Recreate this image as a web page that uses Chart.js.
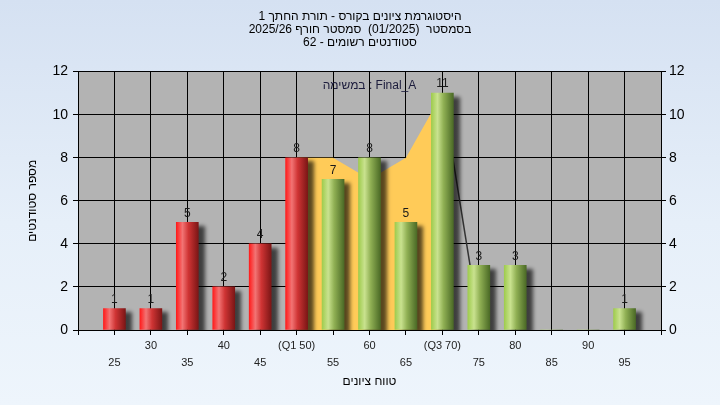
<!DOCTYPE html>
<html>
<head>
<meta charset="utf-8">
<script src="https://cdn.jsdelivr.net/npm/chart.js@4.4.1/dist/chart.umd.min.js"></script>
<style>
  html,body{margin:0;padding:0;}
  body{width:720px;height:405px;background:linear-gradient(180deg,#d5e1f2 0%,#e6eff9 55%,#eef5fc 100%);overflow:hidden;}
  canvas{display:block;}
</style>
</head>
<body>
<canvas id="chart-hist" width="720" height="405"></canvas>
<script>
// histogram data
const grades   = [25, 30, 35, 40, 45, 50, 55, 60, 65, 70, 75, 80, 85, 90, 95];
const counts   = [1, 1, 5, 2, 4, 8, 7, 8, 5, 11, 3, 3, 0, 0, 1];
const tickLabels = ['25','30','35','40','45','(Q1 50)','55','60','65','(Q3 70)','75','80','85','90','95'];
const redUpTo  = 50;

// quartile band (yellow area) and its tail line
const bandX = [50, 55, 60, 65, 70];
const bandY = [8, 8, 7, 8, 11];
const tailX = [70, 73.8];
const tailY = [11, 3];

const titleLines = [
  'היסטוגרמת ציונים בקורס - תורת החתך 1',
  'בסמסטר  (01/2025)  סמסטר חורף 2025/26',
  'סטודנטים רשומים - 62',
];
const noteText = 'במשימה : Final_A';

const FONT = 'Arial, "Liberation Sans", sans-serif';
const BAR_W = 22;

// horizontal "cylinder" gradient across one bar
function cylinder(ctx, px, red) {
  const g = ctx.createLinearGradient(px - BAR_W/2, 0, px + BAR_W/2, 0);
  if (red) {
    g.addColorStop(0, '#ff1c1c');
    g.addColorStop(0.28, '#f27474');
    g.addColorStop(0.55, '#cf3434');
    g.addColorStop(1, '#7c1616');
  } else {
    g.addColorStop(0, '#9fcc4e');
    g.addColorStop(0.28, '#c9e28f');
    g.addColorStop(0.55, '#90b054');
    g.addColorStop(1, '#4b6a26');
  }
  return g;
}

const plotBg = {
  id:'plotBg',
  beforeDraw(chart) {
    const {ctx, chartArea:a} = chart;
    ctx.save();
    ctx.fillStyle = '#b3b3b3';
    ctx.fillRect(a.left, a.top, a.right - a.left, a.bottom - a.top);
    ctx.restore();
  },
  beforeDatasetDraw(chart, args) {
    if (args.index !== 0) return;
    const ctx = chart.ctx;
    args.meta.data.forEach((bar, i) => {
      bar.options = Object.assign({}, bar.options, {backgroundColor: cylinder(ctx, bar.x, grades[i] <= redUpTo)});
    });
    ctx.save();
    ctx.shadowColor = 'rgba(0,0,0,0.65)';
    ctx.shadowBlur = 4;
    ctx.shadowOffsetX = 6;
    ctx.shadowOffsetY = 4;
  },
  afterDatasetDraw(chart, args) {
    if (args.index !== 0) return;
    chart.ctx.restore();
  },
  afterDatasetsDraw(chart) {
    const ctx = chart.ctx;
    const meta = chart.getDatasetMeta(0);
    ctx.save();
    ctx.font = '12px ' + FONT;
    ctx.fillStyle = '#1a1a1a';
    ctx.textAlign = 'center';
    ctx.textBaseline = 'bottom';
    meta.data.forEach((bar, i) => {
      if (!counts[i]) return;
      ctx.fillText(String(counts[i]), bar.x, bar.y - 3);
    });
    ctx.fillStyle = '#1c1c3c';
    ctx.textBaseline = 'middle';
    ctx.fillText(noteText, (chart.chartArea.left + chart.chartArea.right)/2, 86);
    ctx.restore();
  }
};

const tick = {color:'#000', font:{family:FONT, size:14}};

new Chart(document.getElementById('chart-hist'), {
  type:'bar',
  data:{
    datasets:[
      {
        label:'ציונים', order:1,
        data: grades.map((g,i)=>({x:g, y:counts[i]})),
        backgroundColor: c => (c.raw && c.raw.x <= redUpTo) ? '#d83030' : '#8fb050',
        borderWidth:0, barThickness: BAR_W, grouped:false,
      },
      {
        type:'line', label:'Q1-Q3', order:3,
        data: bandX.map((x,i)=>({x, y:bandY[i]})),
        backgroundColor:'#ffcb58', borderWidth:0, fill:'origin',
        pointRadius:0, tension:0,
      },
      {
        type:'line', label:'tail', order:2,
        data: tailX.map((x,i)=>({x, y:tailY[i]})),
        borderColor:'#333', borderWidth:1.5, fill:false,
        pointRadius:0, tension:0,
      },
    ]
  },
  options:{
    responsive:false, animation:false,
    layout:{padding:0},
    plugins:{
      legend:{display:false},
      tooltip:{enabled:false},
      title:{
        display:true, text:titleLines, color:'#000',
        font:{family:FONT, size:12, weight:'normal', lineHeight:1.1},
        padding:{top:10, bottom:22},
      },
    },
    scales:{
      x:{
        type:'linear', min:20, max:100, offset:false,
        afterFit: s => { s.height = 75; },
        afterBuildTicks: s => { s.ticks = [20].concat(grades, [100]).map(v=>({value:v})); },
        ticks:{
          color:'#222', font:{family:FONT, size:11, lineHeight:1.5},
          autoSkip:false, maxRotation:0, minRotation:0, padding:3,
          callback: v => {
            const i = grades.indexOf(v);
            if (i < 0) return '';
            return i % 2 === 0 ? ['', tickLabels[i]] : tickLabels[i];
          },
        },
        grid:{color:'#000', lineWidth:1, tickLength:5, tickColor:'#000', offset:false},
        border:{color:'#000', width:1},
        title:{display:true, text:'טווח ציונים', color:'#000', font:{family:FONT, size:12}, padding:{top:0, bottom:16}},
      },
      y:{
        position:'left', min:0, max:12,
        afterFit: s => { s.width = 78; },
        ticks:{...tick, stepSize:2, padding:5},
        grid:{color:'#000', lineWidth:1, tickLength:5, tickColor:'#000'},
        border:{color:'#000', width:1},
        title:{display:true, text:'מספר סטודנטים', color:'#000', font:{family:FONT, size:12}, padding:{top:25, bottom:0}},
      },
      y2:{
        position:'right', min:0, max:12,
        afterFit: s => { s.width = 59; },
        ticks:{...tick, stepSize:2, padding:3},
        grid:{drawOnChartArea:false, tickLength:5, tickColor:'#000'},
        border:{color:'#000', width:1},
      },
    }
  },
  plugins:[plotBg]
});
</script>
</body>
</html>
